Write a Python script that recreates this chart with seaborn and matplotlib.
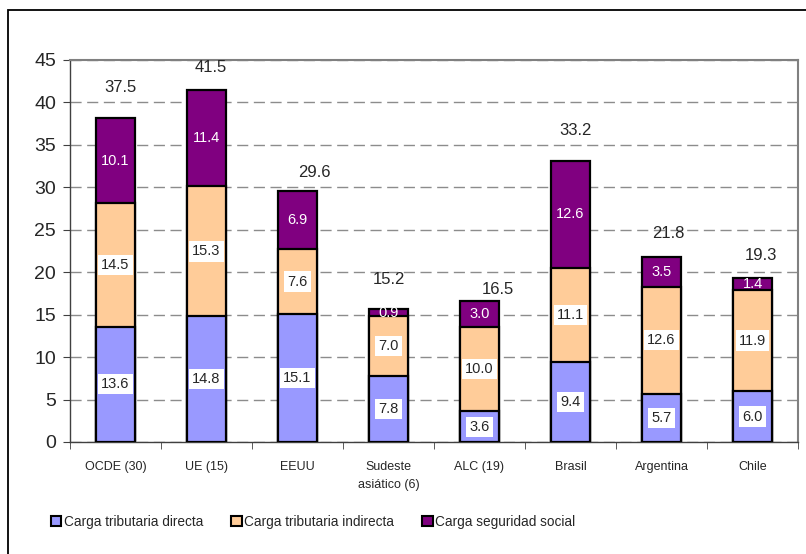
### Import the library
import numpy as np
import pandas as pd
import matplotlib
matplotlib.use('Agg')
import matplotlib.pyplot as plt
import seaborn as sns
from matplotlib.patches import Rectangle

############ Data ############
categorias = ['OCDE (30)', 'UE (15)', 'EEUU', 'Sudeste\nasiático (6)',
              'ALC (19)', 'Brasil', 'Argentina', 'Chile']
directa = [13.6, 14.8, 15.1, 7.8, 3.6, 9.4, 5.7, 6.0]
indirecta = [14.5, 15.3, 7.6, 7.0, 10.0, 11.1, 12.6, 11.9]
seguridad = [10.1, 11.4, 6.9, 0.9, 3.0, 12.6, 3.5, 1.4]
totales = [37.5, 41.5, 29.6, 15.2, 16.5, 33.2, 21.8, 19.3]

### where the total labels sit (hand placed in the original)
total_y = [41.8, 44.1, 31.7, 19.1, 18.0, 36.7, 24.6, 22.0]
total_dx = [0.05, 0.05, 0.18, 0.0, 0.2, 0.05, 0.07, 0.09]

series = ['Carga tributaria directa', 'Carga tributaria indirecta', 'Carga seguridad social']
colores = ['#9999FF', '#FFCC99', '#800080']

### cumulative table for back-to-front drawing
df = pd.DataFrame({'pais': categorias, 'directa': directa,
                   'indirecta': indirecta, 'seguridad': seguridad})
df['c1'] = df['directa']
df['c2'] = df['c1'] + df['indirecta']
df['c3'] = df['c2'] + df['seguridad']

############ Plotting ############
sns.set_style('white')
plt.rcParams['font.family'] = ['Liberation Sans', 'DejaVu Sans']

fig = plt.figure(figsize=(8.06, 5.54), dpi=100)
ax = fig.add_axes([70 / 806, 1 - 442 / 554, 728 / 806, 382 / 554])

bar_kw = dict(width=0.43, edgecolor='black', linewidth=1.6, saturation=1, zorder=3)
for col, c in zip(['c3', 'c2', 'c1'], colores[::-1]):
    sns.barplot(data=df, x='pais', y=col, color=c, ax=ax, **bar_kw)

### segment labels
for i in range(len(categorias)):
    y1 = directa[i] / 2
    y2 = directa[i] + indirecta[i] / 2
    y3 = directa[i] + indirecta[i] + seguridad[i] / 2
    box = dict(boxstyle='square,pad=0.22', fc='white', ec='none')
    ax.text(i, y1, f'{directa[i]:.1f}', ha='center', va='center', fontsize=10.5,
            bbox=box, zorder=5)
    ax.text(i, y2, f'{indirecta[i]:.1f}', ha='center', va='center', fontsize=10.5,
            bbox=box, zorder=5)
    ax.text(i, y3, f'{seguridad[i]:.1f}', ha='center', va='center', fontsize=10.5,
            color='white', zorder=5)
    ax.text(i + total_dx[i], total_y[i], f'{totales[i]:.1f}', ha='center',
            va='center', fontsize=12, zorder=5, clip_on=False)

### axes cosmetics
ax.set_ylim(0, 45)
ax.set_xlim(-0.5, len(categorias) - 0.5)
ax.set_yticks(np.arange(0, 46, 5))
ax.set_xlabel('')
ax.set_ylabel('')
ax.yaxis.grid(True, color='#8c8c8c', linestyle=(0, (8, 4)), linewidth=1.0, zorder=0)
ax.set_axisbelow(True)
for s in ['top', 'right']:
    ax.spines[s].set_color('#808080')
    ax.spines[s].set_linewidth(1.5)
for s in ['left', 'bottom']:
    ax.spines[s].set_color('#404040')
    ax.spines[s].set_linewidth(1.0)

ax.set_xticks(range(len(categorias)))
ax.set_xticklabels(categorias, fontsize=9, linespacing=1.6)
ax.set_xticks(np.arange(-0.5, len(categorias), 1), minor=True)
ax.tick_params(axis='x', which='major', length=0, pad=14)
ax.tick_params(axis='x', which='minor', length=5, direction='out', color='#404040')
ax.tick_params(axis='y', length=5, direction='out', color='#404040', pad=5, labelsize=14)
ax.tick_params(left=True, bottom=True, which='both')

### legend
handles = [Rectangle((0, 0), 1, 1, fc=c, ec='black', lw=1.5) for c in colores]
fig.legend(handles, series, loc='center', bbox_to_anchor=(313 / 806, 1 - 522 / 554),
           ncol=3, frameon=False, handlelength=0.8, handleheight=0.8,
           handletextpad=0.2, columnspacing=2.0, prop={'size': 9.8})

### outer frame of the chart object
fig.patches.append(Rectangle((8 / 806, -0.1), 1.2, (544 / 554) + 0.1, transform=fig.transFigure,
                             fill=False, ec='black', lw=1.3))

fig.savefig('out.png', dpi=100)
